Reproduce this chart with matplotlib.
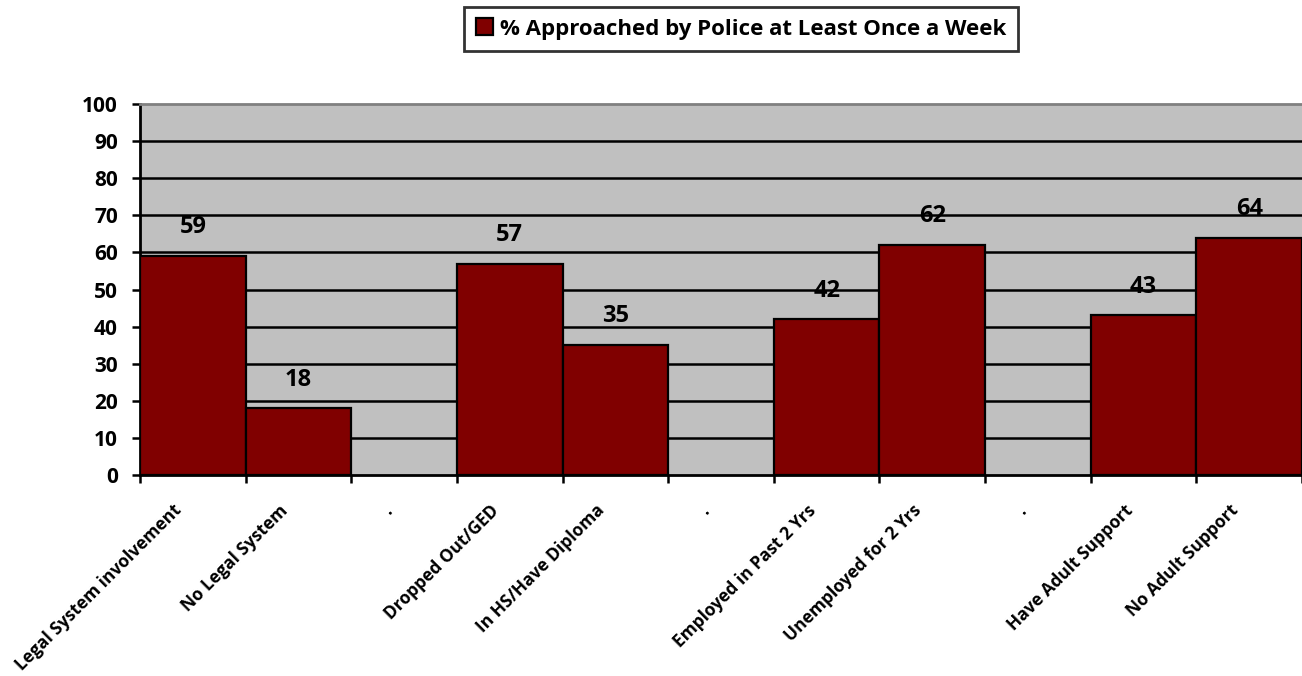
import numpy as np
import matplotlib.pyplot as plt

# groups are separated by blank "." slots, as in the original spreadsheet chart
categories = ['Legal System involvement', 'No Legal System', '.',
              'Dropped Out/GED', 'In HS/Have Diploma', '.',
              'Employed in Past 2 Yrs', 'Unemployed for 2 Yrs', '.',
              'Have Adult Support', 'No Adult Support']
values = [59, 18, None, 57, 35, None, 42, 62, None, 43, 64]
series_name = '% Approached by Police at Least Once a Week'
yticks = list(range(0, 101, 10))

plt.rcParams['font.family'] = ['Open Sans', 'DejaVu Sans']
plt.rcParams['font.weight'] = 'bold'

fig = plt.figure(figsize=(13.02, 6.76), dpi=100)
ax = fig.add_axes([140 / 1302, 1 - 475 / 676, 1 - 140 / 1302, (475 - 104) / 676])
ax.set_facecolor('#c0c0c0')

x = np.arange(len(categories))
for i, v in enumerate(values):
    if v is None:
        continue
    ax.bar(x[i], v, width=1.0, color='#800000', edgecolor='black', linewidth=1.6,
           label=series_name if i == 0 else None, zorder=3)
    ax.annotate(str(v), (x[i], v), xytext=(0, 12), textcoords='offset points',
                ha='center', va='bottom', fontsize=17, fontweight='bold', zorder=4)

ax.set_xlim(-0.5, len(categories) - 0.5)
ax.set_ylim(0, 100)
ax.set_yticks(yticks)
ax.set_yticklabels([str(t) for t in yticks], fontsize=15, fontweight='bold')
for t in yticks[1:-1]:
    ax.axhline(t, color='black', linewidth=1.8, zorder=1)

# slanted labels end a little left of each slot centre; the visible
# tick marks sit on the slot boundaries (minor ticks)
ax.set_xticks(x - 0.19)
ax.set_xticklabels(categories, rotation=45, ha='right', rotation_mode='anchor',
                   fontsize=12.5, fontweight='bold')
ax.set_xticks(np.arange(len(categories) + 1) - 0.5, minor=True)
ax.tick_params(axis='x', which='major', length=0, pad=19)
ax.tick_params(axis='x', which='minor', length=6, width=1.8, direction='out')
ax.tick_params(axis='y', length=6, width=1.8, direction='out', pad=10)

for side in ('left', 'bottom'):
    ax.spines[side].set_linewidth(2)
    ax.spines[side].set_color('black')
ax.spines['top'].set_color('#808080')
ax.spines['top'].set_linewidth(2)
ax.spines['right'].set_visible(False)

leg = fig.legend(loc='center', bbox_to_anchor=(741 / 1302, 1 - 29 / 676), frameon=True,
                 fancybox=False, edgecolor='black', handlelength=0.8,
                 handleheight=0.8, handletextpad=0.3, borderpad=0.5,
                 prop={'weight': 'bold', 'size': 16})
leg.get_frame().set_linewidth(2)

fig.savefig('out.png', dpi=100)
